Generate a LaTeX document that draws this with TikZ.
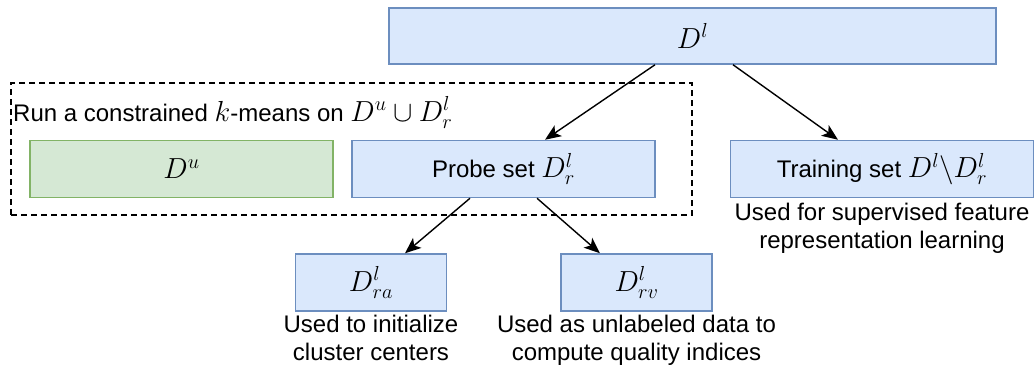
\RequirePackage{fix-cm}
\documentclass[tikz,border=0pt]{standalone}
\usepackage{fontspec}
\setmainfont{Liberation Sans}
\usetikzlibrary{positioning,calc,arrows.meta}

\definecolor{bluefill}{HTML}{DAE8FC}
\definecolor{blueline}{HTML}{6C8EBF}
\definecolor{greenfill}{HTML}{D5E8D4}
\definecolor{greenline}{HTML}{82B366}

% math is set larger than the sans text around it
\newcommand{\mth}[1]{{\fontsize{29}{33}\selectfont$#1$}}

\tikzset{
    setbox/.style={rectangle,draw=blueline,fill=bluefill,line width=1.5pt,minimum width=303pt,minimum height=57pt,font=\fontsize{24}{28}\selectfont},
    smallbox/.style={setbox,minimum width=151pt},
    note/.style={align=center,inner sep=0pt,font=\fontsize{24}{28}\selectfont},
    flow/.style={line width=1.4pt,-{Stealth[length=16pt,width=13pt,inset=4pt]}}
}

\begin{document}
\begin{tikzpicture}[x=1pt,y=-1pt]
        \useasboundingbox (0,0) rectangle (1036,370);

        % constrained k-means region
        \node[rectangle,draw=black,dashed,dash pattern=on 6pt off 4pt,line width=1.4pt,minimum width=681pt,minimum height=132pt] (kmeans) at (351.5,149) {};
        \node[anchor=base west,inner sep=0pt,font=\fontsize{24}{28}\selectfont] (kmeanslabel) at (13,121) {Run a constrained \mth{k}-means on \mth{D^u\cup D^l_r}};

        \node[setbox,minimum width=607pt,minimum height=56pt] (dl) at (692.5,36) {\mth{D^l}};
        \node[setbox,draw=greenline,fill=greenfill] (du) at (181.5,169) {\mth{D^u}};
        \node[setbox] (probe) at (503.5,169) {Probe set \mth{D^l_r}};
        \node[setbox] (train) at (882,169) {Training set \mth{D^l\backslash D^l_r}};
        \node[smallbox] (ra) at (371,282.5) {\mth{D^l_{ra}}};
        \node[smallbox] (rv) at (636.5,282.5) {\mth{D^l_{rv}}};

        \node[note,anchor=north] (trainnote) at ([yshift=-5pt]train.south) {Used for supervised feature\\representation learning};
        \node[note,anchor=north] (ranote) at ([yshift=-3pt]ra.south) {Used to initialize\\cluster centers};
        \node[note,anchor=north] (rvnote) at ([yshift=-3pt]rv.south) {Used as unlabeled data to\\compute quality indices};

        \draw[flow] ([xshift=-37.5pt]dl.south) -- ([xshift=41.5pt]probe.north);
        \draw[flow] ([xshift=40.5pt]dl.south) -- ([xshift=-44pt]train.north);
        \draw[flow] ([xshift=-33.5pt]probe.south) -- ([xshift=34pt]ra.north);
        \draw[flow] ([xshift=33.5pt]probe.south) -- ([xshift=-36.5pt]rv.north);
    \end{tikzpicture}
\end{document}
